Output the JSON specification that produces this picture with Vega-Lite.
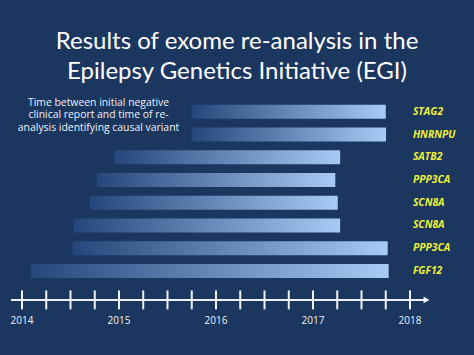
{
  "$schema": "https://vega.github.io/schema/vega-lite/v6.json",
  "width": 474,
  "height": 267,
  "autosize": {"type": "none"},
  "padding": {"left": 0, "right": 0, "top": 88, "bottom": 0},
  "background": "#1b365f",
  "config": {"view": {"stroke": null}},
  "title": {
    "text": ["Results of exome re-analysis in the", "Epilepsy Genetics Initiative (EGI)"],
    "color": "#ffffff",
    "fontSize": 24,
    "font": "Lato",
    "fontWeight": "normal",
    "lineHeight": 30.5,
    "anchor": "middle",
    "frame": "group",
    "offset": 4
  },
  "datasets": {
    "bars": [
      {"gene": "STAG2", "row": 1, "start": 2015.75, "end": 2017.75},
      {"gene": "HNRNPU", "row": 2, "start": 2015.75, "end": 2017.753},
      {"gene": "SATB2", "row": 3, "start": 2014.95, "end": 2017.28},
      {"gene": "PPP3CA", "row": 4, "start": 2014.77, "end": 2017.23},
      {"gene": "SCN8A", "row": 5, "start": 2014.70, "end": 2017.255},
      {"gene": "SCN8A", "row": 6, "start": 2014.53, "end": 2017.28},
      {"gene": "PPP3CA", "row": 7, "start": 2014.52, "end": 2017.77},
      {"gene": "FGF12", "row": 8, "start": 2014.09, "end": 2017.78}
    ],
    "ticks": [
      {"t": 2014}, {"t": 2014.25}, {"t": 2014.5}, {"t": 2014.75},
      {"t": 2015}, {"t": 2015.25}, {"t": 2015.5}, {"t": 2015.75},
      {"t": 2016}, {"t": 2016.25}, {"t": 2016.5}, {"t": 2016.75},
      {"t": 2017}, {"t": 2017.25}, {"t": 2017.5}, {"t": 2017.75},
      {"t": 2018}
    ],
    "years": [
      {"year": 2014, "label": "2014"},
      {"year": 2015, "label": "2015"},
      {"year": 2016, "label": "2016"},
      {"year": 2017, "label": "2017"},
      {"year": 2018, "label": "2018"}
    ],
    "line": [{"from": 2013.887, "to": 2018.17}],
    "note": [{"text": "Time between initial negative\nclinical report and time of re-\nanalysis identifying causal variant"}]
  },
  "layer": [
    {
      "data": {"name": "bars"},
      "mark": {
        "type": "bar",
        "size": 14,
        "color": {
          "gradient": "linear",
          "stops": [
            {"offset": 0, "color": "#24467a"},
            {"offset": 1, "color": "#a8caf6"}
          ]
        }
      },
      "encoding": {
        "x": {"field": "start", "type": "quantitative", "scale": {"domain": [2013.7732, 2018.6598], "nice": false, "zero": false}, "axis": null},
        "x2": {"field": "end"},
        "y": {"field": "row", "type": "quantitative", "scale": {"domain": [0.1754, 11.473], "reverse": true, "nice": false, "zero": false}, "axis": null}
      }
    },
    {
      "data": {"name": "bars"},
      "mark": {"type": "text", "align": "left", "baseline": "middle", "font": "Open Sans", "fontSize": 10.3, "fontStyle": "italic", "fontWeight": "bold", "color": "#eef03a"},
      "encoding": {
        "x": {"datum": 2018.03, "type": "quantitative"},
        "y": {"field": "row", "type": "quantitative"},
        "text": {"field": "gene"}
      }
    },
    {
      "data": {"name": "note"},
      "mark": {"type": "text", "align": "center", "baseline": "middle", "font": "Open Sans", "fontSize": 10.4, "lineHeight": 12.5, "lineBreak": "\n", "color": "#eef2f8"},
      "encoding": {
        "x": {"datum": 2014.789, "type": "quantitative"},
        "y": {"datum": 0.614, "type": "quantitative"},
        "text": {"field": "text"}
      }
    },
    {
      "data": {"name": "line"},
      "mark": {"type": "rule", "color": "#eef2f8", "strokeWidth": 2},
      "encoding": {
        "x": {"field": "from", "type": "quantitative"},
        "x2": {"field": "to"},
        "y": {"datum": 9.27, "type": "quantitative"}
      }
    },
    {
      "data": {"name": "line"},
      "mark": {"type": "point", "shape": "triangle-right", "filled": true, "size": 45, "color": "#eef2f8", "opacity": 1},
      "encoding": {
        "x": {"field": "to", "type": "quantitative"},
        "y": {"datum": 9.27, "type": "quantitative"}
      }
    },
    {
      "data": {"name": "ticks"},
      "mark": {"type": "tick", "orient": "vertical", "size": 19, "thickness": 2, "color": "#eef2f8", "opacity": 1},
      "encoding": {
        "x": {"field": "t", "type": "quantitative"},
        "y": {"datum": 9.27, "type": "quantitative"}
      }
    },
    {
      "data": {"name": "years"},
      "mark": {"type": "text", "align": "center", "baseline": "middle", "font": "Open Sans", "fontSize": 10, "color": "#eef2f8"},
      "encoding": {
        "x": {"field": "year", "type": "quantitative"},
        "y": {"datum": 10.18, "type": "quantitative"},
        "text": {"field": "label"}
      }
    }
  ]
}
